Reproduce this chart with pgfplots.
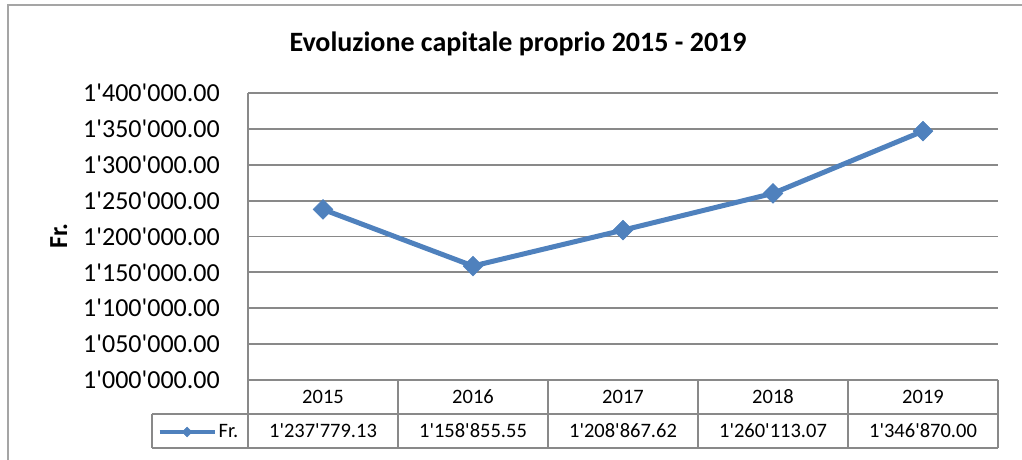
\documentclass[border=0pt]{standalone}
\usepackage{pgfplots}
\pgfplotsset{compat=1.18}
\usepackage{fontspec}
\setmainfont{Carlito}[Ligatures=TeXOff]
\definecolor{ser}{RGB}{79,129,189}
\definecolor{grd}{RGB}{137,137,137}
\definecolor{frm}{RGB}{165,165,165}
\begin{document}
\begin{tikzpicture}[x=1pt,y=1pt]
\path[use as bounding box] (0,0) rectangle (1022,-460);
\begin{scope}
\clip (0,0) rectangle (1022,-460);
\draw[frm, line width=2pt] (8,-470) -- (8,-5) -- (1030,-5);
\end{scope}
\node[font=\bfseries\fontsize{28}{32}\selectfont, anchor=base] at (518,-52) {Evoluzione capitale proprio 2015 - 2019};
\node[font=\bfseries\fontsize{26}{30}\selectfont, rotate=90, anchor=base] at (67,-236) {Fr.};
\begin{axis}[at={(248pt,-380pt)}, anchor=south west, scale only axis,
  width=750pt, height=287pt,
  xmin=0.5, xmax=5.5, ymin=1000000, ymax=1400000,
  xtick=\empty,
  scaled y ticks=false,
  ytick={1000000,1050000,1100000,1150000,1200000,1250000,1300000,1350000,1400000},
  yticklabels={1'000'000.00,1'050'000.00,1'100'000.00,1'150'000.00,1'200'000.00,1'250'000.00,1'300'000.00,1'350'000.00,1'400'000.00},
  yticklabel style={font=\fontsize{26}{30}\selectfont, inner sep=0pt, xshift=-28pt},
  major tick length=0pt,
  axis line style={draw=none},
  ymajorgrids, grid style={grd, line width=1.8pt},
  clip=false,
  legend style={at={(axis description cs:-0.0653,-0.1812)}, anchor=center, draw=none, fill=none,
    font=\fontsize{20.5}{24}\selectfont, inner sep=0pt,
    /tikz/every even column/.append style={column sep=2pt}},
  legend image code/.code={\draw[#1, mark repeat=2, mark phase=2, mark size=3.5pt, line width=4pt] plot coordinates {(0pt,0pt) (27.5pt,0pt) (55pt,0pt)};},
]
\addplot[ser, line width=5pt, mark=square*, mark size=7pt, mark options={rotate=45, line width=0.5pt, fill=ser}]
  coordinates {(1,1237779.13) (2,1158855.55) (3,1208867.62) (4,1260113.07) (5,1346870.00)};
\addlegendentry{Fr.}
\end{axis}
% data table
\begin{scope}[grd, line width=1.8pt]
\draw (248,-93) -- (248,-448);
\draw (152,-414) -- (998,-414);
\draw (152,-448) -- (998,-448);
\draw (152,-414) -- (152,-448);
\foreach \xx in {398,548,698,848,998} {\draw (\xx,-380) -- (\xx,-448);}
\end{scope}
\begin{scope}[font=\fontsize{20.5}{24}\selectfont]
\node at (323,-397) {2015};
\node at (473,-397) {2016};
\node at (623,-397) {2017};
\node at (773,-397) {2018};
\node at (923,-397) {2019};
\node at (323,-431) {1'237'779.13};
\node at (473,-431) {1'158'855.55};
\node at (623,-431) {1'208'867.62};
\node at (773,-431) {1'260'113.07};
\node at (923,-431) {1'346'870.00};
\end{scope}
\end{tikzpicture}
\end{document}
